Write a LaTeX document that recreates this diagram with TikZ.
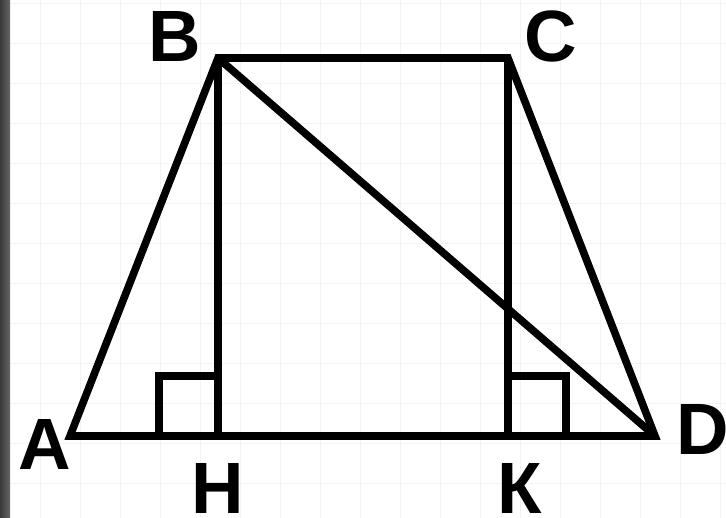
\documentclass[tikz,border=0pt]{standalone}
\usepackage{fontspec}
\setmainfont{Liberation Sans}
\usetikzlibrary{calc, positioning}
\definecolor{gridclr}{HTML}{F3F3F3}
\definecolor{edgeclr}{HTML}{3A3A3A}

\begin{document}
\begin{tikzpicture}[
            x=0.025cm, y=-0.025cm,
            grid line/.style={line width=0.6pt, gridclr},
            figure line/.style={line width=5.4pt, black, line join=miter, line cap=butt},
            mark line/.style={line width=5pt, black},
            vertex label/.style={font=\fontsize{51.7}{52}\selectfont\bfseries, inner sep=0pt},
        ]

        % Frame
        \useasboundingbox (0,0) rectangle (726,518);
        \fill[white] (0,0) rectangle (726,518);

        % Background Grid
        \foreach \x in {40,80,...,720} {
            \draw[grid line] (\x,0) -- (\x,518);
        }
        \foreach \y in {3,43,...,518} {
            \draw[grid line] (0,\y) -- (726,\y);
        }

        % Left border strip
        \shade[left color=edgeclr, right color=black!60] (0,0) rectangle (10,518);

        % Vertices
        \coordinate (A) at (70,436);
        \coordinate (B) at (218,58);
        \coordinate (C) at (508,58);
        \coordinate (D) at (655,436);
        \coordinate (H) at (218,436);
        \coordinate (K) at (508,436);

        % Right angle marks
        \draw[mark line] (H) -- ++(-59,0) |- ($(H)+(0,-60)$);
        \draw[mark line] (K) -- ++(58,0) |- ($(K)+(0,-60)$);

        % Trapezoid, heights and diagonal
        \draw[figure line] (A) -- (B) -- (C) -- (D) -- cycle;
        \draw[figure line] (B) -- (H);
        \draw[figure line] (C) -- (K);
        \draw[figure line] (B) -- (D);

        % Labels
        \node[vertex label] (lblA) at (45,444) {A};
        \node[vertex label] (lblB) at (175,36) {B};
        \node[vertex label] (lblC) at (551,36) {C};
        \node[vertex label] (lblD) at (703,429) {D};
        \node[vertex label] (lblH) at (218,488) {H};
        \node[vertex label] (lblK) at (520,488) {К};

        \end{tikzpicture}
\end{document}
